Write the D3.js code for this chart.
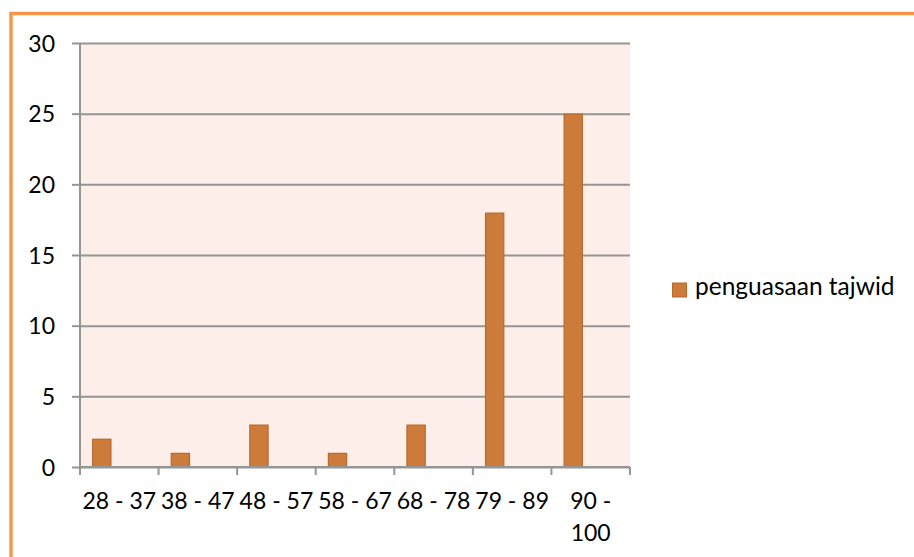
<!DOCTYPE html>
<html><head><meta charset="utf-8">
<script src="https://cdn.jsdelivr.net/npm/d3@7"></script>
<style>body{margin:0;background:#fff}svg{display:block}</style>
</head><body>
<svg id="c" width="914" height="557"></svg>
<script>
const categories = ["28 - 37","38 - 47","48 - 57","58 - 67","68 - 78","79 - 89","90 - 100"];
const values = [2,1,3,1,3,18,25];
const yTicks = [0,5,10,15,20,25,30];
const seriesName = "penguasaan tajwid";

const svg = d3.select("#c");
const font = "Lato, 'Open Sans', sans-serif";
const L=80, R=630, T=43, B=467;
const x = d3.scaleBand().domain(categories).range([L,R]).padding(0);
const y = d3.scaleLinear().domain([0,30]).range([B,T]);

// outer border
svg.append("rect").attr("x",11).attr("y",13.5).attr("width",1200).attr("height",1200)
  .attr("fill","none").attr("stroke","#F79646").attr("stroke-width",3.5);

// plot bg
svg.append("rect").attr("x",L).attr("y",T).attr("width",R-L).attr("height",B-T).attr("fill","#FDEEE9");

// gridlines + y axis
const ya = d3.axisLeft(y).tickValues(yTicks).tickSize(8).tickPadding(0).tickFormat(d3.format("d"));
const yg = svg.append("g").attr("transform",`translate(${L},0)`).call(ya);
yg.select(".domain").remove();
yg.selectAll(".tick line").attr("stroke","#959595").attr("stroke-width",2);
yg.selectAll(".tick").append("line").attr("x1",0).attr("x2",R-L).attr("stroke","#959595").attr("stroke-width",2);
yg.selectAll(".tick text").attr("x",-25).attr("dy","0.35em").attr("fill","#000")
  .style("font-family",font).style("font-size","23px");

// y axis line
svg.append("line").attr("x1",L).attr("x2",L).attr("y1",T).attr("y2",B).attr("stroke","#959595").attr("stroke-width",2);

// bars
const bw = x.bandwidth();
svg.append("g").selectAll("rect").data(values).join("rect")
  .attr("x",(d,i)=>x(categories[i])+bw*0.155+0.5)
  .attr("width",bw*0.245-1)
  .attr("y",d=>y(d)+0.5)
  .attr("height",d=>y(0)-y(d)-0.5)
  .attr("fill","#CD7B3A").attr("stroke","#B9692C").attr("stroke-width",1.2);

// x axis
svg.append("line").attr("x1",L).attr("x2",R).attr("y1",B).attr("y2",B).attr("stroke","#959595").attr("stroke-width",2);
const bounds = categories.map(c=>x(c)).concat([R]);
svg.append("g").selectAll("line").data(bounds).join("line")
  .attr("x1",d=>d).attr("x2",d=>d).attr("y1",B).attr("y2",B+8).attr("stroke","#959595").attr("stroke-width",2);

const xl = svg.append("g");
categories.forEach((c)=>{
  const cx = x(c)+bw/2;
  const lines = c==="90 - 100" ? ["90 -","100"] : [c];
  const t = xl.append("text").attr("text-anchor","middle").attr("fill","#000")
    .style("font-family",font).style("font-size","23px");
  lines.forEach((ln,j)=>{
    t.append("tspan").attr("x",cx).attr("y",509+j*32).text(ln);
  });
});

// legend
svg.append("rect").attr("x",672.5).attr("y",283).attr("width",14).attr("height",14)
  .attr("fill","#CD7B3A").attr("stroke","#B9692C").attr("stroke-width",1);
svg.append("text").attr("x",695).attr("y",295).attr("fill","#000")
  .style("font-family",font).style("font-size","24.5px").text(seriesName);
</script>
</body></html>
